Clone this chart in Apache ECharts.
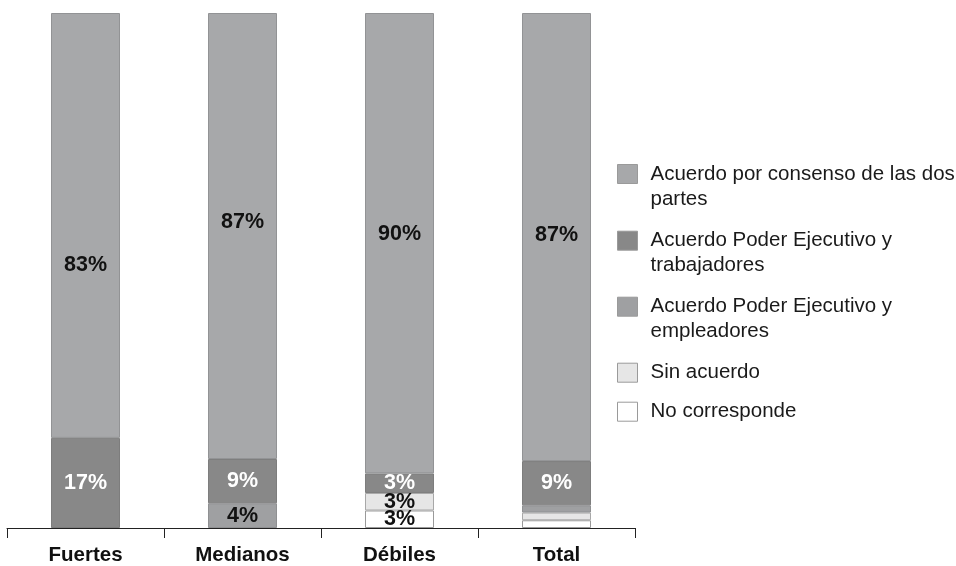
<!DOCTYPE html>
<html>
<head>
<meta charset="utf-8">
<script src="https://cdn.jsdelivr.net/npm/echarts@6/dist/echarts.min.js"></script>
<style>
html,body{margin:0;padding:0;background:#fff;}
#c{width:956px;height:566px;}
</style>
</head>
<body>
<div id="c"></div>
<script>
// ---- data ----
const categories = ['Fuertes', 'Medianos', 'Débiles', 'Total'];
const seriesNames = [
  'No corresponde',
  'Sin acuerdo',
  'Acuerdo Poder Ejecutivo y empleadores',
  'Acuerdo Poder Ejecutivo y trabajadores',
  'Acuerdo por consenso de las dos partes'
];
// bar heights (% of each bar)
const noCorresponde = [0, 0, 3.4, 1.5];
const sinAcuerdo = [0, 0, 3.4, 1.5];
const empleadores = [0, 4.8, 0, 1.4];
const trabajadores = [17.5, 8.6, 3.8, 8.6];
const consenso = [82.5, 86.6, 89.4, 87.0];
// printed labels
const noCorrespondeLabels = ['', '', '3%', ''];
const sinAcuerdoLabels = ['', '', '3%', ''];
const empleadoresLabels = ['', '4%', '', ''];
const trabajadoresLabels = ['17%', '9%', '3%', '9%'];
const consensoLabels = ['83%', '87%', '90%', '87%'];
// legend wrapped text
const legendText = {
  'Acuerdo por consenso de las dos partes': 'Acuerdo por consenso de las dos\npartes',
  'Acuerdo Poder Ejecutivo y trabajadores': 'Acuerdo Poder Ejecutivo y\ntrabajadores',
  'Acuerdo Poder Ejecutivo y empleadores': 'Acuerdo Poder Ejecutivo y\nempleadores',
  'Sin acuerdo': 'Sin acuerdo',
  'No corresponde': 'No corresponde'
};

// ---- styles ----
const FONT = '"Liberation Sans", Arial, sans-serif';
const colors = ['#ffffff', '#e6e6e6', '#9fa0a2', '#888888', '#a7a8aa'];
const borders = ['#9a9a9a', '#a8a8a8', '#8f9092', '#7d7d7d', '#929395'];
const labelColors = ['#111', '#111', '#111', '#ffffff', '#111'];
const consensoLabelShift = [40, -14, -9, -2];

const values = [noCorresponde, sinAcuerdo, empleadores, trabajadores, consenso];
const labels = [noCorrespondeLabels, sinAcuerdoLabels, empleadoresLabels, trabajadoresLabels, consensoLabels];

const series = seriesNames.map((name, si) => ({
  name: name,
  type: 'bar',
  stack: 'total',
  barWidth: 69,
  itemStyle: { color: colors[si], borderColor: borders[si], borderWidth: 1 },
  label: {
    show: true,
    position: 'inside',
    fontFamily: FONT,
    fontWeight: 'bold',
    fontSize: 21.5,
    color: labelColors[si],
    formatter: p => labels[si][p.dataIndex]
  },
  emphasis: { disabled: true },
  data: values[si].map((v, i) => {
    if (!v) return '-';
    const item = { value: v };
    if (si === 4) item.label = { offset: [0, consensoLabelShift[i]] };
    return item;
  })
}));

// legend: one component per item so the icon sits on the first text line
const legendOrder = [4, 3, 2, 1, 0];
const lineCenters = [174, 240.7, 306.7, 372.7, 411.7];
const legends = legendOrder.map((si, k) => {
  const name = seriesNames[si];
  const twoLines = legendText[name].indexOf('\n') >= 0;
  const top = twoLines ? lineCenters[k] - 37.5 : lineCenters[k] - 12.5;
  return {
    left: 617,
    top: top,
    padding: 0,
    orient: 'vertical',
    itemWidth: 20,
    itemHeight: 19,
    itemGap: 0,
    icon: 'rect',
    itemStyle: { borderColor: '#9a9a9a', borderWidth: 1 },
    selectedMode: false,
    data: [{ name: name }],
    // a leading empty line for wrapped items keeps the icon on the first text line
    formatter: n => (legendText[n].indexOf('\n') >= 0 ? '\n' : '') + legendText[n],
    textStyle: { fontFamily: FONT, fontSize: 20.5, lineHeight: 25, color: '#1a1a1a', padding: [0, 0, 0, 8] }
  };
});

const chart = echarts.init(document.getElementById('c'));
chart.setOption({
  animation: false,
  backgroundColor: '#fff',
  grid: { left: 7, right: 321, top: 13, bottom: 38, containLabel: false },
  legend: legends,
  xAxis: {
    type: 'category',
    data: categories,
    axisLine: { lineStyle: { color: '#222', width: 1 } },
    axisTick: { show: true, length: 10, lineStyle: { color: '#222' } },
    axisLabel: { fontFamily: FONT, fontWeight: 'bold', fontSize: 20.5, color: '#111', margin: 17 }
  },
  yAxis: {
    type: 'value', min: 0, max: 100, show: false, splitLine: { show: false }
  },
  series: series
});
</script>
</body>
</html>
